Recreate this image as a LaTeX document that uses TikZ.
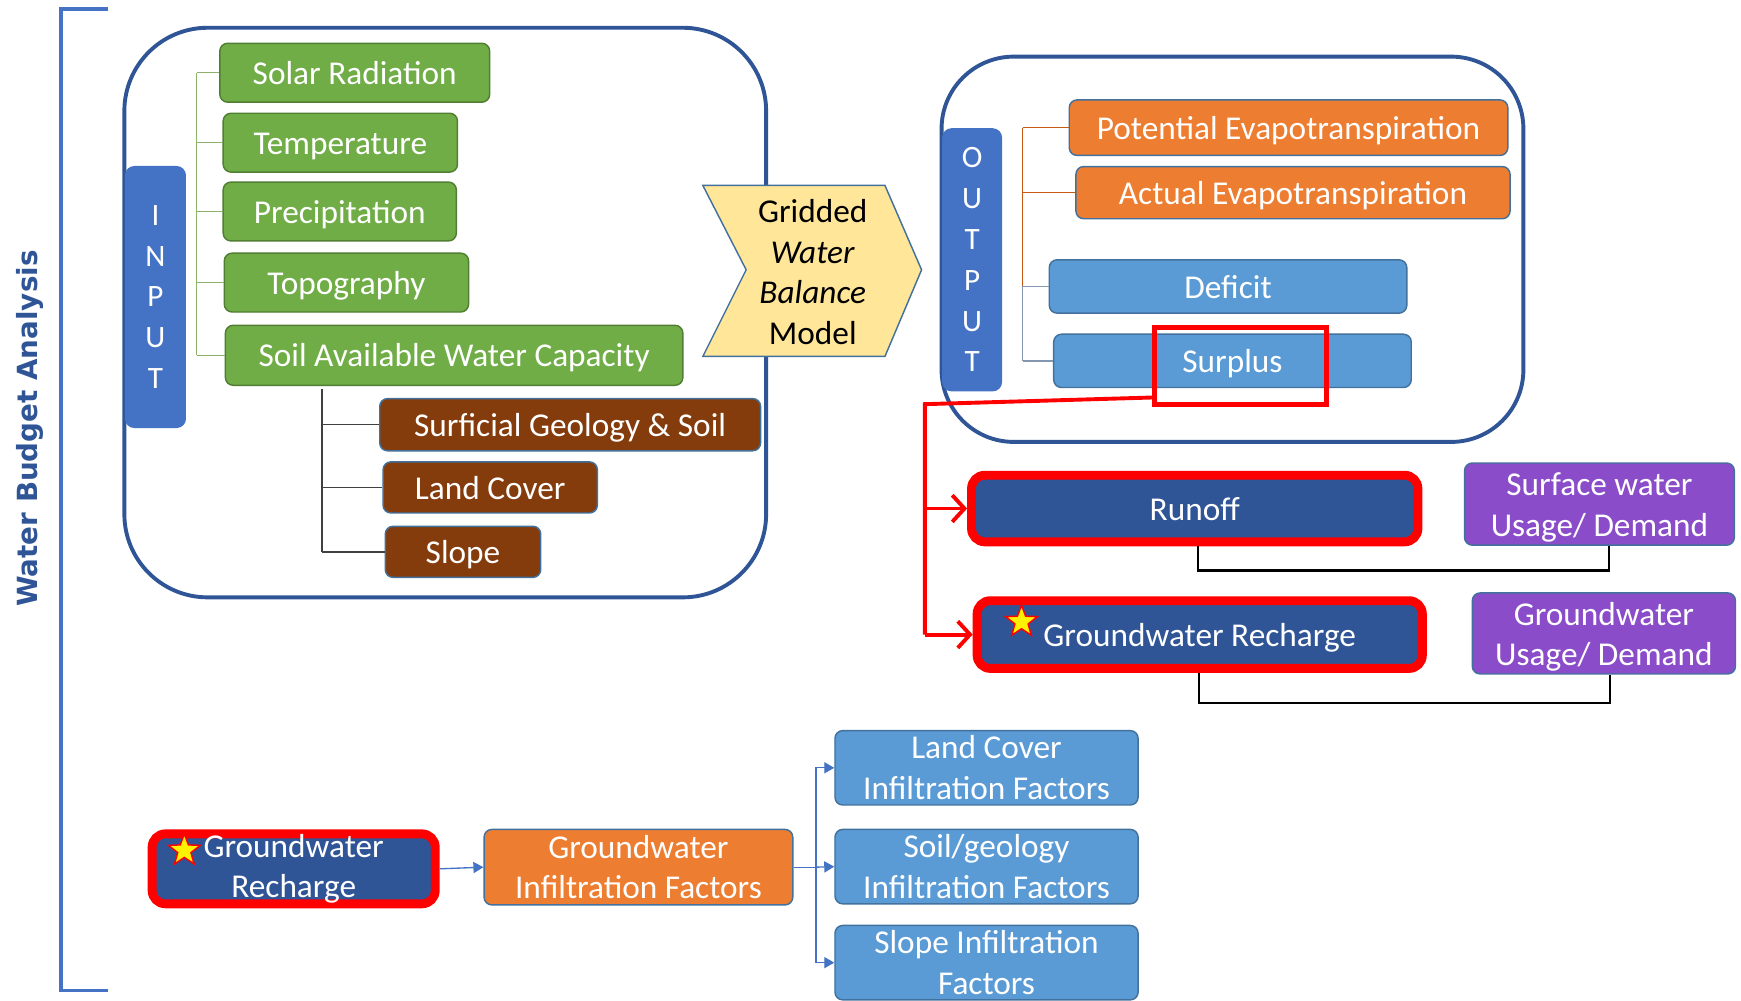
\documentclass[tikz,border=0pt]{standalone}
\usepackage{fontspec}
\setmainfont{Carlito}
\newfontfamily\titlefont{DejaVu Sans}
\usetikzlibrary{arrows.meta,shapes.geometric}
\definecolor{dblue}{HTML}{2F5597}
\definecolor{mblue}{HTML}{4472C4}
\definecolor{lblue}{HTML}{5B9BD5}
\definecolor{bbord}{HTML}{41719C}
\definecolor{ggreen}{HTML}{70AD47}
\definecolor{gborder}{HTML}{507E32}
\definecolor{gline}{HTML}{8DB36B}
\definecolor{brownf}{HTML}{843C0C}
\definecolor{orangef}{HTML}{ED7D31}
\definecolor{oline}{HTML}{C55A11}
\definecolor{purplef}{HTML}{8A4CC8}
\definecolor{yelf}{HTML}{FFE699}
\definecolor{bgline}{HTML}{8497B0}
\newcommand{\topstrut}{\rule{0pt}{27pt}}
\tikzset{
  bx/.style={rounded corners=7pt, draw=bbord, line width=1.3pt, text=white,
    font=\fontsize{30}{36.5}\selectfont, inner sep=0pt, align=center},
  oneline/.style={text height=21pt, text depth=0pt},
  gbox/.style={bx, oneline, fill=ggreen, draw=gborder},
  brbox/.style={bx, oneline, fill=brownf},
  obox/.style={bx, fill=orangef},
  lbbox/.style={bx, fill=lblue},
  pbox/.style={bx, fill=purplef},
  redbox/.style={bx, fill=dblue, draw=red, line width=8pt, rounded corners=12pt},
  labbox/.style={rounded corners=8pt, fill=mblue, draw=mblue, line width=1pt, text=white,
    font=\fontsize{28}{36.75}\selectfont, inner sep=0pt, align=center},
  bigbox/.style={draw=dblue, line width=3.5pt, rounded corners=75pt, inner sep=0pt},
  treeg/.style={draw=gline, line width=1.2pt},
  treek/.style={draw=black!75, line width=1.2pt},
  treeo/.style={draw=oline, line width=1.2pt},
  treeb/.style={draw=bgline, line width=1.2pt},
  redln/.style={draw=red, line width=3.5pt},
  redarr/.style={redln, -{Straight Barb[length=11pt,width=24pt,line width=3.5pt]}},
  blk/.style={draw=black, line width=2.2pt},
  bln/.style={draw=mblue, line width=1.2pt},
  blarr/.style={bln, -{Triangle[length=9pt,width=10pt]}},
  starn/.style={star, star points=5, star point ratio=2.4, fill=yellow, draw=red,
    line width=1.3pt, minimum size=30pt, inner sep=0pt}
}
\begin{document}
\begin{tikzpicture}[x=1pt,y=-1pt]
\useasboundingbox (0,0) rectangle (1568,901);
\fill[white] (0,0) rectangle (1568,901);

% bracket and title
\draw[mblue, line width=3pt] (97,8) -- (55,8) -- (55,892) -- (97,892);
\node[rotate=90, text=dblue, font=\titlefont\bfseries\fontsize{25}{30}\selectfont] (title) at (27,386) {Water Budget Analysis};

% input container
\node[bigbox, minimum width=578pt, minimum height=513pt] (inbox) at (401,281.5) {};
\node[labbox, minimum width=54pt, minimum height=235pt] (input) at (140,267.5) {I\\N\\P\\U\\T};

\node[gbox, minimum width=243pt, minimum height=53pt] (solar) at (319.5,65.5) {Solar Radiation};
\node[gbox, minimum width=211pt, minimum height=53pt] (temp) at (306.5,128.5) {Temperature};
\node[gbox, minimum width=210pt, minimum height=53pt] (prec) at (306,190.5) {Precipitation};
\node[gbox, minimum width=220pt, minimum height=53pt] (topo) at (312,254.5) {Topography};
\node[gbox, minimum width=412pt, minimum height=54pt] (sawc) at (409,320) {Soil Available Water Capacity};

\node[brbox, minimum width=343pt, minimum height=47pt] (surf) at (513.5,382.5) {Surficial Geology \& Soil};
\node[brbox, minimum width=193pt, minimum height=46pt] (lcov) at (441.5,439) {Land Cover};
\node[brbox, minimum width=140pt, minimum height=46pt] (slope) at (417,497) {Slope};

\coordinate (gx) at (177,0);
\draw[treeg] (gx |- solar.west) -- (gx |- sawc.west);
\foreach \n in {solar,temp,prec,topo,sawc} \draw[treeg] (gx |- \n.west) -- (\n.west);
\coordinate (kx) at (290,350);
\draw[treek] (kx) -- (kx |- slope.west);
\foreach \n in {surf,lcov,slope} \draw[treek] (kx |- \n.west) -- (\n.west);

% model chevron
\draw[fill=yelf, draw=bbord, line width=1.3pt] (633,167) -- (797,167) -- (830,243) -- (797,321) -- (633,321) -- (672,243) -- cycle;
\node[align=center, font=\fontsize{30}{36.7}\selectfont, text=black] (gwbm) at (732,245) {Gridded\\\textit{Water}\\\textit{Balance}\\Model};

% output container
\node[bigbox, rounded corners=65pt, minimum width=524pt, minimum height=347pt] (outbox) at (1110,224.5) {};
\node[labbox, minimum width=53pt, minimum height=236pt] (output) at (875.5,234) {O\\U\\T\\P\\U\\T};

\node[obox, oneline, minimum width=395pt, minimum height=50pt] (pet) at (1160.5,115) {Potential Evapotranspiration};
\node[obox, oneline, minimum width=391pt, minimum height=47pt] (aet) at (1164.5,173.5) {Actual Evapotranspiration};
\node[lbbox, oneline, minimum width=322pt, minimum height=48pt] (deficit) at (1106,258) {Deficit};
\node[lbbox, oneline, minimum width=322pt, minimum height=48pt] (surplus) at (1110,325) {Surplus};

\coordinate (ox) at (921,0);
\draw[treeo] (ox |- pet.west) -- (ox |- deficit.west);
\draw[treeo] (ox |- pet.west) -- (pet.west);
\draw[treeo] (ox |- aet.west) -- (aet.west);
\draw[treeb] (ox |- deficit.west) -- (ox |- surplus.west);
\draw[treeb] (ox |- deficit.west) -- (deficit.west);
\draw[treeb] (ox |- surplus.west) -- (surplus.west);

\node[draw=red, line width=4.5pt, minimum width=155pt, minimum height=69pt, inner sep=0pt] (hl) at (1117.5,329.5) {};

% runoff & recharge
\node[redbox, oneline, minimum width=402pt, minimum height=60pt] (runoff) at (1076,458) {Runoff};
\node[redbox, oneline, minimum width=401pt, minimum height=61pt] (gwr) at (1080.5,571.5) {Groundwater Recharge};
\node[starn] (star1) at (920,560) {};

\node[pbox, minimum width=243pt, minimum height=74pt] (sw) at (1440.5,454) {\topstrut Surface water\\Usage/ Demand};
\node[pbox, minimum width=237pt, minimum height=73pt] (gwu) at (1444.5,570.5) {\topstrut Groundwater\\Usage/ Demand};

\coordinate (rs) at (1038,358);
\coordinate (rj) at (833,364);
\draw[redln] (rs) -- (rj) -- (rj |- gwr.west);
\draw[redarr] (rj |- runoff.west) -- (runoff.west);
\draw[redarr] (rj |- gwr.west) -- (gwr.west);

\draw[blk] ([xshift=3pt]runoff.south) -- ++(0,22) -| ([xshift=8.5pt]sw.south);
\draw[blk] ([xshift=-0.5pt]gwr.south) -- ++(0,27) -| ([xshift=5.5pt]gwu.south);

% bottom row
\node[redbox, minimum width=255pt, minimum height=63pt] (gwr2) at (264.5,782.5) {Groundwater\\Recharge};
\node[starn] (star2) at (166,766) {};
\node[obox, minimum width=278pt, minimum height=68pt] (gif) at (575,781) {Groundwater\\Infiltration Factors};
\node[lbbox, minimum width=273pt, minimum height=67pt] (lcif) at (888.5,691.5) {Land Cover\\Infiltration Factors};
\node[lbbox, minimum width=273pt, minimum height=67pt] (sgif) at (888.5,780.5) {Soil/geology\\Infiltration Factors};
\node[lbbox, minimum width=273pt, minimum height=67pt] (sif) at (888.5,867) {Slope Infiltration\\Factors};

\draw[blarr] (gwr2.east) -- (gif.west);
\coordinate (jt) at (735,781);
\draw[bln] (gif.east) -- (jt);
\draw[blarr] (jt) |- (lcif.west);
\draw[blarr] (jt) -- (sgif.west);
\draw[blarr] (jt) |- (sif.west);
\end{tikzpicture}
\end{document}
